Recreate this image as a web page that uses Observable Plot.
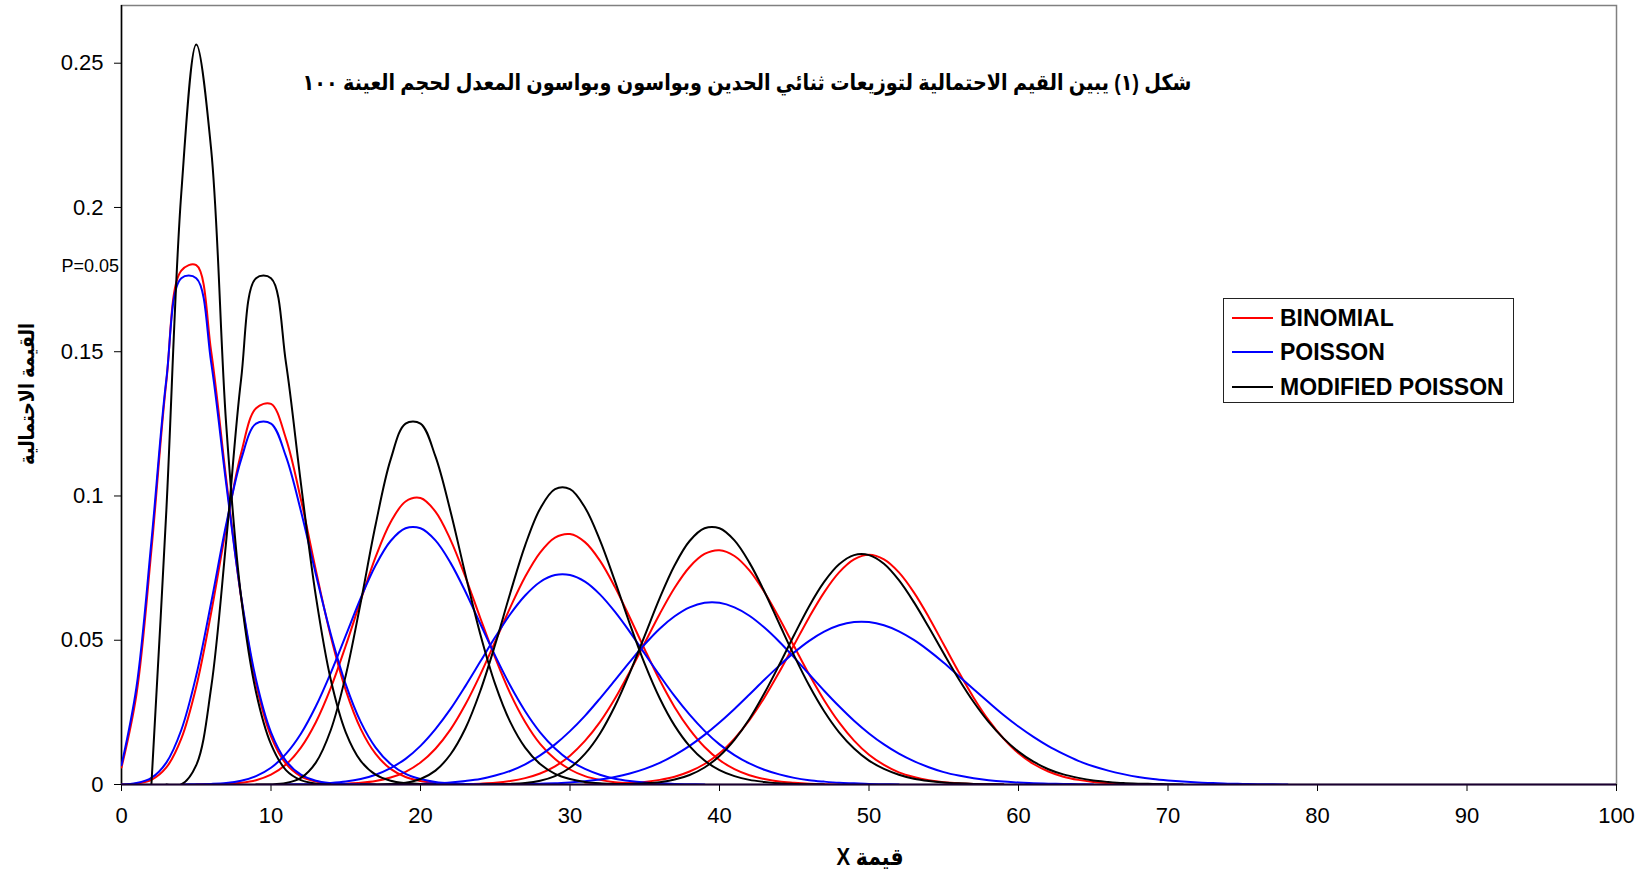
<!DOCTYPE html>
<html>
<head>
<meta charset="utf-8">
<script src="https://cdn.jsdelivr.net/npm/d3@7"></script>
<script src="https://cdn.jsdelivr.net/npm/@observablehq/plot@0.6"></script>
<style>
  body { margin: 0; background: #fff; }
  #wrap { position: relative; width: 1645px; height: 877px; font-family: "Liberation Sans", Arial, "DejaVu Sans", sans-serif; color: #000; }
  .ov { position: absolute; white-space: nowrap; line-height: 1.2; }
  .ar { font-family: "Liberation Sans", "DejaVu Sans", sans-serif; font-weight: bold; direction: rtl; }
  #legend { position: absolute; left: 1223px; top: 298px; width: 289px; height: 103px; border: 1px solid #222; background: #fff; }
  .lrow { position: absolute; left: 0; height: 30px; display: flex; align-items: center; font: bold 23px "Liberation Sans", Arial, sans-serif; }
  .lrow span.sw { display: inline-block; width: 41px; height: 0; border-top: 2px solid; margin-left: 8px; margin-right: 7px; }
</style>
</head>
<body>
<div id="wrap"></div>
<script>
// ---------------- data ----------------
const pValues = [0.05, 0.1, 0.2, 0.3, 0.4, 0.5];
const xTicks = [0, 10, 20, 30, 40, 50, 60, 70, 80, 90, 100];
const yTicks = [0, 0.05, 0.1, 0.15, 0.2, 0.25];
const yTickLabels = ["0", "0.05", "0.1", "0.15", "0.2", "0.25"];
const seriesNames = ["BINOMIAL", "POISSON", "MODIFIED POISSON"];
const seriesColors = ["#FF0000", "#0000FF", "#000000"];
const titleText = "شكل (١) يبين القيم الاحتمالية لتوزيعات ثنائي الحدين وبواسون وبواسون المعدل لحجم العينة ١٠٠";
const xTitle = "قيمة X";
const yTitle = "القيمة الاحتمالية";
const noteText = "P=0.05";

// first x of each curve (index follows pValues)
const binomialStart = [0, 0, 5, 13, 22, 31];
const poissonStart = [0, 0, 4, 11, 18, 25];
const modifiedStart = [2, 3, 9, 16, 24, 32];

// Binomial curves (red)
const binomial05 = [0.0059, 0.0312, 0.0812, 0.1396, 0.1781, 0.1800, 0.1500, 0.1060, 0.0649, 0.0349, 0.0167, 0.0072, 0.0028, 0.0010, 0.0003, 0.0001, 0];
const binomial10 = [0, 0.0003, 0.0016, 0.0059, 0.0159, 0.0339, 0.0596, 0.0889, 0.1148, 0.1304, 0.1319, 0.1199, 0.0988, 0.0743, 0.0513, 0.0327, 0.0193, 0.0106, 0.0054, 0.0026, 0.0012, 0.0005, 0.0002, 0.0001, 0];
const binomial20 = [0, 0.0001, 0.0002, 0.0006, 0.0015, 0.0034, 0.0069, 0.0128, 0.0216, 0.0335, 0.0481, 0.0638, 0.0789, 0.0909, 0.0981, 0.0993, 0.0946, 0.0849, 0.0720, 0.0577, 0.0439, 0.0316, 0.0217, 0.0141, 0.0088, 0.0052, 0.0029, 0.0016, 0.0008, 0.0004, 0.0002, 0.0001, 0];
const binomial30 = [0, 0.0001, 0.0003, 0.0006, 0.0012, 0.0024, 0.0044, 0.0076, 0.0124, 0.0190, 0.0277, 0.0381, 0.0496, 0.0613, 0.0720, 0.0804, 0.0856, 0.0868, 0.0840, 0.0776, 0.0685, 0.0579, 0.0468, 0.0362, 0.0268, 0.0191, 0.0130, 0.0085, 0.0053, 0.0032, 0.0019, 0.0010, 0.0006, 0.0003, 0.0001, 0];
const binomial40 = [0, 0.0001, 0.0003, 0.0006, 0.0012, 0.0022, 0.0038, 0.0063, 0.0100, 0.0151, 0.0216, 0.0297, 0.0391, 0.0491, 0.0591, 0.0682, 0.0754, 0.0799, 0.0812, 0.0792, 0.0742, 0.0667, 0.0576, 0.0478, 0.0381, 0.0292, 0.0215, 0.0152, 0.0103, 0.0068, 0.0042, 0.0026, 0.0015, 0.0008, 0.0004, 0.0002, 0.0001, 0];
const binomial50 = [0, 0.0001, 0.0002, 0.0005, 0.0009, 0.0016, 0.0027, 0.0045, 0.0071, 0.0108, 0.0159, 0.0223, 0.0301, 0.0390, 0.0485, 0.0580, 0.0666, 0.0735, 0.0780, 0.0796, 0.0780, 0.0735, 0.0666, 0.0580, 0.0485, 0.0390, 0.0301, 0.0223, 0.0159, 0.0108, 0.0071, 0.0045, 0.0027, 0.0016, 0.0009, 0.0005, 0.0002, 0.0001, 0];

// Poisson curves (blue)
const poisson05 = [0.0067, 0.0337, 0.0842, 0.1404, 0.1755, 0.1755, 0.1462, 0.1044, 0.0653, 0.0363, 0.0181, 0.0082, 0.0034, 0.0013, 0.0005, 0.0002, 0.0001, 0];
const poisson10 = [0, 0.0005, 0.0023, 0.0076, 0.0189, 0.0378, 0.0631, 0.0901, 0.1126, 0.1251, 0.1251, 0.1137, 0.0948, 0.0729, 0.0521, 0.0347, 0.0217, 0.0128, 0.0071, 0.0037, 0.0019, 0.0009, 0.0004, 0.0002, 0.0001, 0];
const poisson20 = [0, 0.0001, 0.0002, 0.0005, 0.0013, 0.0029, 0.0058, 0.0106, 0.0176, 0.0271, 0.0387, 0.0516, 0.0646, 0.0760, 0.0844, 0.0888, 0.0888, 0.0846, 0.0769, 0.0669, 0.0557, 0.0446, 0.0343, 0.0254, 0.0181, 0.0125, 0.0083, 0.0054, 0.0034, 0.0020, 0.0012, 0.0007, 0.0004, 0.0002, 0.0001, 0];
const poisson30 = [0, 0.0001, 0.0002, 0.0005, 0.0010, 0.0019, 0.0034, 0.0057, 0.0089, 0.0134, 0.0192, 0.0261, 0.0341, 0.0426, 0.0511, 0.0590, 0.0655, 0.0702, 0.0726, 0.0726, 0.0703, 0.0659, 0.0599, 0.0529, 0.0453, 0.0378, 0.0306, 0.0242, 0.0186, 0.0139, 0.0102, 0.0073, 0.0051, 0.0035, 0.0023, 0.0015, 0.0010, 0.0006, 0.0004, 0.0002, 0.0001, 0];
const poisson40 = [0, 0.0001, 0.0002, 0.0004, 0.0007, 0.0012, 0.0019, 0.0031, 0.0047, 0.0070, 0.0101, 0.0139, 0.0185, 0.0238, 0.0298, 0.0361, 0.0425, 0.0486, 0.0540, 0.0583, 0.0614, 0.0630, 0.0630, 0.0614, 0.0585, 0.0544, 0.0495, 0.0440, 0.0382, 0.0325, 0.0271, 0.0221, 0.0177, 0.0139, 0.0107, 0.0081, 0.0060, 0.0043, 0.0031, 0.0022, 0.0015, 0.0010, 0.0007, 0.0004, 0.0003, 0.0002, 0.0001, 0];
const poisson50 = [0, 0.0001, 0.0002, 0.0003, 0.0004, 0.0007, 0.0011, 0.0017, 0.0026, 0.0038, 0.0054, 0.0075, 0.0102, 0.0134, 0.0172, 0.0215, 0.0262, 0.0312, 0.0363, 0.0412, 0.0458, 0.0498, 0.0530, 0.0552, 0.0563, 0.0563, 0.0552, 0.0531, 0.0501, 0.0464, 0.0422, 0.0376, 0.0330, 0.0285, 0.0241, 0.0201, 0.0165, 0.0133, 0.0106, 0.0082, 0.0063, 0.0048, 0.0036, 0.0026, 0.0019, 0.0014, 0.0010, 0.0007, 0.0005, 0.0003, 0.0002, 0.0001, 0.0001, 0];

// Modified Poisson curves (black)
const modified05 = [0, 0.095, 0.205, 0.2565, 0.220, 0.125, 0.065, 0.032, 0.014, 0.005, 0.0015, 0.0003, 0];
const modified10 = [0, 0, 0.0067, 0.0337, 0.0842, 0.1404, 0.1755, 0.1755, 0.1462, 0.1044, 0.0653, 0.0363, 0.0181, 0.0082, 0.0034, 0.0013, 0.0005, 0.0002, 0];
const modified20 = [0, 0, 0.0005, 0.0023, 0.0076, 0.0189, 0.0378, 0.0631, 0.0901, 0.1126, 0.1251, 0.1251, 0.1137, 0.0948, 0.0729, 0.0521, 0.0347, 0.0217, 0.0128, 0.0071, 0.0037, 0.0019, 0.0009, 0.0004, 0.0002, 0.0001, 0];
const modified30 = [0, 0, 0.0002, 0.0006, 0.0019, 0.0048, 0.0104, 0.0194, 0.0324, 0.0486, 0.0663, 0.0829, 0.0956, 0.1024, 0.1024, 0.0960, 0.0847, 0.0706, 0.0557, 0.0418, 0.0299, 0.0204, 0.0133, 0.0083, 0.0050, 0.0029, 0.0016, 0.0009, 0.0004, 0.0002, 0.0001, 0];
const modified40 = [0, 0.0001, 0.0002, 0.0005, 0.0013, 0.0029, 0.0058, 0.0106, 0.0176, 0.0271, 0.0387, 0.0516, 0.0646, 0.0760, 0.0844, 0.0888, 0.0888, 0.0846, 0.0769, 0.0669, 0.0557, 0.0446, 0.0343, 0.0254, 0.0181, 0.0125, 0.0083, 0.0054, 0.0034, 0.0020, 0.0012, 0.0007, 0.0004, 0.0002, 0.0001, 0];
const modified50 = [0, 0.0001, 0.0002, 0.0004, 0.0008, 0.0017, 0.0033, 0.0059, 0.0099, 0.0155, 0.0227, 0.0316, 0.0415, 0.0519, 0.0618, 0.0702, 0.0763, 0.0795, 0.0795, 0.0765, 0.0708, 0.0632, 0.0545, 0.0454, 0.0366, 0.0286, 0.0217, 0.0160, 0.0114, 0.0079, 0.0053, 0.0035, 0.0023, 0.0014, 0.0009, 0.0005, 0.0003, 0.0002, 0.0001, 0];

// ---------------- build table ----------------
function toRows(dist, starts, arrays) {
  const out = [];
  arrays.forEach((vals, i) => vals.forEach((v, j) => out.push({dist, p: pValues[i], x: starts[i] + j, y: v})));
  return out;
}
const binomialRows = toRows("binomial", binomialStart, [binomial05, binomial10, binomial20, binomial30, binomial40, binomial50]);
const poissonRows = toRows("poisson", poissonStart, [poisson05, poisson10, poisson20, poisson30, poisson40, poisson50]);
const modifiedRows = toRows("modified", modifiedStart, [modified05, modified10, modified20, modified30, modified40, modified50]);

const lineOpts = (color) => ({x: "x", y: "y", z: "p", stroke: color, strokeWidth: 2, curve: "catmull-rom", clip: true});

const chart = Plot.plot({
  width: 1645,
  height: 877,
  marginLeft: 121,
  marginRight: 29,
  marginTop: 5,
  marginBottom: 93,
  style: {fontFamily: '"Liberation Sans", Arial, sans-serif', fontSize: "22px", color: "#000", background: "#fff"},
  x: {domain: [0, 100]},
  y: {domain: [0, 0.27]},
  marks: [
    Plot.frame({stroke: "#808080", strokeWidth: 1.5}),
    Plot.ruleX([0], {stroke: "#000", strokeWidth: 1.5}),
    Plot.axisX({ticks: xTicks, tickSize: 7, tickPadding: 16, label: null}),
    Plot.axisY({ticks: yTicks, tickFormat: d => yTickLabels[yTicks.indexOf(d)], tickSize: 7, tickPadding: 11, label: null}),
    Plot.line(binomialRows, lineOpts(seriesColors[0])),
    Plot.line(poissonRows, lineOpts(seriesColors[1])),
    Plot.line(modifiedRows, lineOpts(seriesColors[2])),
    Plot.ruleY([0], {stroke: "#1a0030", strokeWidth: 2})
  ]
});

const wrap = document.getElementById("wrap");
wrap.appendChild(chart);

// ---------------- text overlays ----------------
function overlay(text, cls, cx, cy, fontSize, rotate, targetW) {
  const d = document.createElement("div");
  d.className = "ov " + cls;
  d.textContent = text;
  d.style.fontSize = fontSize + "px";
  wrap.appendChild(d);
  let sx = 1;
  if (targetW) {
    const w = d.getBoundingClientRect().width;
    if (w > 0) sx = targetW / w;
  }
  d.style.left = cx + "px";
  d.style.top = cy + "px";
  d.style.transform = "translate(-50%, -50%)" + (rotate ? " rotate(-90deg)" : "") + " scaleX(" + sx.toFixed(4) + ")";
  return d;
}
overlay(titleText, "ar", 746.5, 83, 22, false, 889);
overlay(yTitle, "ar", 27, 394, 21, true, 142);
overlay(xTitle, "ar", 870, 857, 24, false, 67);

const note = document.createElement("div");
note.className = "ov";
note.textContent = noteText;
note.style.cssText += "font-size:18px;right:" + (1645 - 119) + "px;top:267px;transform:translateY(-50%);";
wrap.appendChild(note);

// legend
const legend = document.createElement("div");
legend.id = "legend";
const rowTops = [4, 38, 73];
seriesNames.forEach((name, i) => {
  const r = document.createElement("div");
  r.className = "lrow";
  r.style.top = rowTops[i] + "px";
  const sw = document.createElement("span");
  sw.className = "sw";
  sw.style.borderTopColor = seriesColors[i];
  const t = document.createElement("span");
  t.textContent = name;
  r.appendChild(sw);
  r.appendChild(t);
  legend.appendChild(r);
});
wrap.appendChild(legend);
</script>
</body>
</html>
